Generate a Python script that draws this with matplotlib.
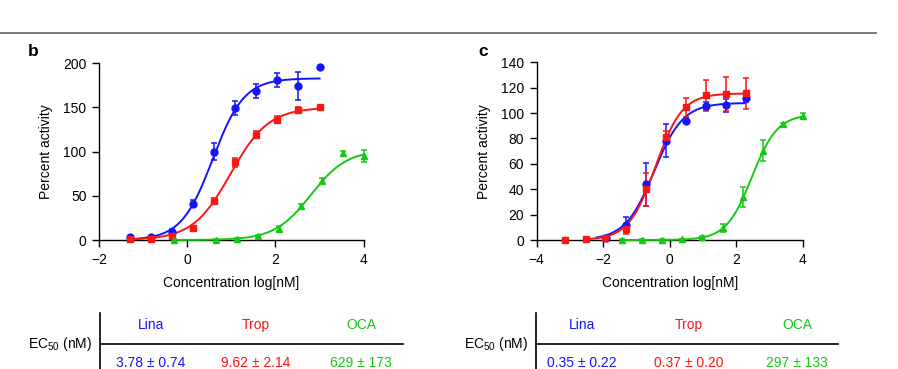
import matplotlib.pyplot as plt
import numpy as np

plt.rcParams['font.family'] = ['Liberation Sans', 'DejaVu Sans']
plt.rcParams['mathtext.fontset'] = 'custom'
plt.rcParams['mathtext.rm'] = 'Liberation Sans'
plt.rcParams['mathtext.it'] = 'Liberation Sans'

BLUE = '#1414ff'
RED = '#ff1414'
GREEN = '#14c814'

# panel b data (log[nM], percent activity, error)
b_lina_x = [-1.30, -0.82, -0.35, 0.12, 0.61, 1.09, 1.56, 2.04, 2.52, 3.00]
b_lina_y = [3, 3, 9, 41, 100, 149, 169, 181, 174, 196]
b_lina_e = [2, 2, 3, 4, 10, 8, 8, 8, 16, 0]
b_trop_x = [-1.30, -0.82, -0.35, 0.12, 0.61, 1.09, 1.56, 2.04, 2.52, 3.00]
b_trop_y = [1, 1, 5, 14, 44, 88, 119, 136, 147, 151]
b_trop_e = [1, 1, 2, 2, 3, 5, 4, 4, 3, 2]
b_oca_x = [-0.31, 0.65, 1.13, 1.61, 2.09, 2.57, 3.05, 3.52, 4.00]
b_oca_y = [0, 0, 1, 4, 13, 38, 67, 98, 95]
b_oca_e = [1, 1, 1, 2, 3, 3, 3, 3, 7]

# panel c data
c_lina_x = [-1.92, -1.32, -0.71, -0.11, 0.48, 1.10, 1.70, 2.29]
c_lina_y = [1.5, 12, 44, 78, 94, 105.5, 106, 112]
c_lina_e = [1, 6, 17, 13, 2, 3, 5, 3]
c_trop_x = [-3.14, -2.53, -1.94, -1.32, -0.71, -0.11, 0.48, 1.10, 1.70, 2.29]
c_trop_y = [0, 1, 1.5, 8.5, 40, 81, 104.5, 114, 115, 115.5]
c_trop_e = [0.5, 0.5, 1, 4, 13, 5, 7.5, 12, 13.5, 12]
c_oca_x = [-1.43, -0.83, -0.23, 0.38, 0.98, 1.59, 2.20, 2.80, 3.40, 4.00]
c_oca_y = [0, 0, 0, 0.5, 2, 9.5, 34, 70.5, 91, 98]
c_oca_e = [0.5, 0.5, 0.5, 0.5, 1, 3, 8, 8.5, 1.5, 2]

# fitted curve parameters: top, logEC50, hill, x start, x end
b_fits = [(183, 0.577, 1.22, -1.30, 3.0), (150, 0.983, 1.01, -1.30, 3.0), (102, 2.80, 1.06, -0.31, 4.0)]
c_fits = [(108, -0.47, 1.0, -2.2, 2.29), (115.5, -0.43, 1.08, -2.45, 2.29), (99, 2.47, 1.13, -1.43, 4.0)]

drugs = ['Lina', 'Trop', 'OCA']
b_ec50 = ['3.78 ± 0.74', '9.62 ± 2.14', '629 ± 173']
c_ec50 = ['0.35 ± 0.22', '0.37 ± 0.20', '297 ± 133']

colors = [BLUE, RED, GREEN]
markers = ['o', 's', '^']
FS = 10

fig = plt.figure(figsize=(8.98, 3.69), dpi=100)

# overlay axes in pixel coordinates for the top rule and tables
ov = fig.add_axes([0, 0, 1, 1])
ov.set_xlim(0, 898)
ov.set_ylim(369, 0)
ov.axis('off')
ov.plot([0, 876], [32.5, 32.5], color='#707070', lw=1.3)
ov.text(33, 52, 'b', fontsize=12.5, fontweight='bold', ha='center', va='center')
ov.text(483, 52, 'c', fontsize=12.5, fontweight='bold', ha='center', va='center')


def draw_table(x_vert, x_end, x_names, ec50):
    ov.plot([x_vert, x_vert], [313, 369], color='black', lw=1.2)
    ov.plot([x_vert, x_end], [344, 344], color='black', lw=1.2)
    ov.text(x_vert - 8, 344, 'EC$_{50}$ (nM)', fontsize=FS, ha='right', va='center')
    for xn, name, val, col in zip(x_names, drugs, ec50, colors):
        ov.text(xn, 325, name, fontsize=FS, color=col, ha='center', va='center')
        ov.text(xn, 363, val, fontsize=FS, color=col, ha='center', va='center')


draw_table(100, 403, [151, 256, 361], b_ec50)
draw_table(536, 838, [582, 689, 797], c_ec50)


def style_axes(ax, xlim, ylim, yticks, xticks):
    ax.set_xlim(*xlim)
    ax.set_ylim(*ylim)
    ax.set_xticks(xticks)
    ax.set_yticks(yticks)
    ax.set_xticklabels(['\u2212' + str(-t) if t < 0 else str(t) for t in xticks])
    for s in ['top', 'right']:
        ax.spines[s].set_visible(False)
    for s in ['left', 'bottom']:
        ax.spines[s].set_linewidth(1.0)
    ax.tick_params(direction='out', length=5, width=1.0, labelsize=FS, pad=4)
    ax.set_ylabel('Percent activity', fontsize=FS, labelpad=7)
    ax.set_xlabel('Concentration log[nM]', fontsize=FS, labelpad=7)
    ax.patch.set_alpha(0)


def draw_panel(ax, series, fits):
    for (xs, ys, es), (top, lec, h, x0, x1), col, mk in zip(series, fits, colors, markers):
        xx = np.linspace(x0, x1, 200)
        yy = top / (1 + 10 ** ((lec - xx) * h))
        ax.plot(xx, yy, color=col, lw=1.4, clip_on=False, zorder=3)
        ax.errorbar(xs, ys, yerr=es, fmt=mk, color=col, ms=5, elinewidth=1.1,
                    capsize=2.4, capthick=1.1, clip_on=False, zorder=4)


series_b = [(b_lina_x, b_lina_y, b_lina_e), (b_trop_x, b_trop_y, b_trop_e), (b_oca_x, b_oca_y, b_oca_e)]
series_c = [(c_lina_x, c_lina_y, c_lina_e), (c_trop_x, c_trop_y, c_trop_e), (c_oca_x, c_oca_y, c_oca_e)]

ax_b = fig.add_axes([99 / 898, 1 - 240 / 369, 264.7 / 898, 176.7 / 369])
draw_panel(ax_b, series_b, b_fits)
style_axes(ax_b, (-2, 4), (0, 200), [0, 50, 100, 150, 200], [-2, 0, 2, 4])

ax_c = fig.add_axes([536.7 / 898, 1 - 240 / 369, 266 / 898, 177.7 / 369])
draw_panel(ax_c, series_c, c_fits)
style_axes(ax_c, (-4, 4), (0, 140), [0, 20, 40, 60, 80, 100, 120, 140], [-4, -2, 0, 2, 4])

fig.savefig('out.png', dpi=100)
